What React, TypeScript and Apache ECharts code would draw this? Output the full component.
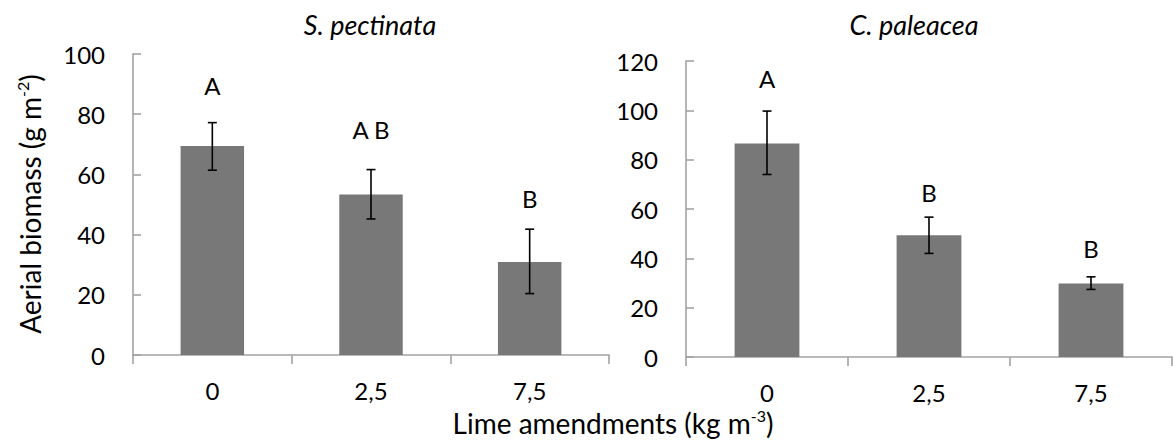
import { useEffect, useRef } from "react";
import * as echarts from "echarts";

const categories = ["0", "2,5", "7,5"];

const spMeans = [69.4, 53.3, 30.9];
const spLow = [61.4, 45.2, 20.4];
const spHigh = [77.2, 61.6, 41.8];
const spLetters = ["A", "A B", "B"];
const spLetterY = [89.5, 75, 52];

const cpMeans = [86.6, 49.4, 29.8];
const cpLow = [74.0, 42.0, 27.4];
const cpHigh = [99.7, 56.7, 32.5];
const cpLetters = ["A", "B", "B"];
const cpLetterY = [113, 66.5, 44];

const FONT = "Lato";
const AXIS = "#a3a3a3";
const BAR = "#787878";
const TICK_FS = 24;

function errorSeries(idx: number, lows: number[], highs: number[]) {
  return {
    type: "custom",
    xAxisIndex: idx,
    yAxisIndex: idx,
    z: 5,
    data: categories.map((_, i) => [i, lows[i], highs[i]]),
    encode: { x: 0, y: [1, 2] },
    renderItem: (params: any, api: any) => {
      const x = api.value(0);
      const p1 = api.coord([x, api.value(2)]);
      const p2 = api.coord([x, api.value(1)]);
      const w = 4.5;
      const st = { stroke: "#000", lineWidth: 1.6 };
      return {
        type: "group",
        children: [
          { type: "line", shape: { x1: p1[0], y1: p1[1], x2: p2[0], y2: p2[1] }, style: st },
          { type: "line", shape: { x1: p1[0] - w, y1: p1[1], x2: p1[0] + w, y2: p1[1] }, style: st },
          { type: "line", shape: { x1: p2[0] - w, y1: p2[1], x2: p2[0] + w, y2: p2[1] }, style: st },
        ],
      };
    },
  };
}

function letterSeries(idx: number, letters: string[], ys: number[]) {
  return {
    type: "custom",
    xAxisIndex: idx,
    yAxisIndex: idx,
    z: 6,
    data: categories.map((_, i) => [i, ys[i]]),
    encode: { x: 0, y: 1 },
    renderItem: (params: any, api: any) => {
      const p = api.coord([api.value(0), api.value(1)]);
      return {
        type: "text",
        x: p[0],
        y: p[1],
        style: {
          text: letters[params.dataIndex],
          fill: "#000",
          fontSize: TICK_FS,
          fontFamily: FONT,
          align: "center",
          verticalAlign: "middle",
        },
      };
    },
  };
}

function xAxis(idx: number) {
  return {
    type: "category",
    gridIndex: idx,
    data: categories,
    boundaryGap: true,
    axisLine: { show: true, lineStyle: { color: AXIS, width: 1.6 } },
    axisTick: { show: true, length: 9, lineStyle: { color: AXIS, width: 1.6 } },
    axisLabel: { color: "#000", fontSize: TICK_FS, fontFamily: FONT, margin: 23 },
  };
}

function yAxis(idx: number, max: number) {
  return {
    type: "value",
    gridIndex: idx,
    min: 0,
    max,
    interval: 20,
    axisLine: { show: true, lineStyle: { color: AXIS, width: 1.6 } },
    axisTick: { show: true, inside: true, length: 8, lineStyle: { color: AXIS, width: 1.6 } },
    splitLine: { show: false },
    axisLabel: { color: "#000", fontSize: TICK_FS, fontFamily: FONT, margin: 28 },
  };
}

function supText(x: number, y: number, main: string, sup: string, rotate: boolean) {
  return {
    type: "text",
    x,
    y,
    rotation: rotate ? Math.PI / 2 : 0,
    style: {
      text: `{a|${main}}{s|${sup}}{a|)}`,
      align: "center",
      verticalAlign: "middle",
      rich: {
        a: { fontSize: 28, fontFamily: FONT, fill: "#000", lineHeight: 32 },
        s: { fontSize: 16, fontFamily: FONT, fill: "#000", verticalAlign: "top", lineHeight: 32 },
      },
    },
  };
}

export default function App() {
  const ref = useRef<HTMLDivElement>(null);
  useEffect(() => {
    const chart = echarts.init(ref.current!, null, { renderer: "svg" });
    chart.setOption({
      animation: false,
      backgroundColor: "#fff",
      grid: [
        { left: 133, top: 54, width: 476, height: 301 },
        { left: 686, top: 61, width: 486, height: 296 },
      ],
      xAxis: [xAxis(0), xAxis(1)],
      yAxis: [yAxis(0, 100), yAxis(1, 120)],
      series: [
        {
          type: "bar",
          xAxisIndex: 0,
          yAxisIndex: 0,
          data: spMeans,
          barWidth: "40%",
          itemStyle: { color: BAR },
        },
        {
          type: "bar",
          xAxisIndex: 1,
          yAxisIndex: 1,
          data: cpMeans,
          barWidth: "40%",
          itemStyle: { color: BAR },
        },
        errorSeries(0, spLow, spHigh),
        errorSeries(1, cpLow, cpHigh),
        letterSeries(0, spLetters, spLetterY),
        letterSeries(1, cpLetters, cpLetterY),
      ],
      graphic: [
        {
          type: "text",
          x: 370,
          y: 24,
          style: {
            text: "S. pectinata",
            fontStyle: "italic",
            fontSize: 27,
            fontFamily: FONT,
            fill: "#000",
            align: "center",
            verticalAlign: "middle",
          },
        },
        {
          type: "text",
          x: 914,
          y: 24,
          style: {
            text: "C. paleacea",
            fontStyle: "italic",
            fontSize: 27,
            fontFamily: FONT,
            fill: "#000",
            align: "center",
            verticalAlign: "middle",
          },
        },
        supText(30, 204, "Aerial biomass (g m", "-2", true),
        supText(613, 423, "Lime amendments (kg m", "-3", false),
      ],
    });
    return () => chart.dispose();
  }, []);
  return (
    <div
      ref={ref}
      style={{ position: "absolute", left: 0, top: 0, width: 1173, height: 443 }}
    />
  );
}
